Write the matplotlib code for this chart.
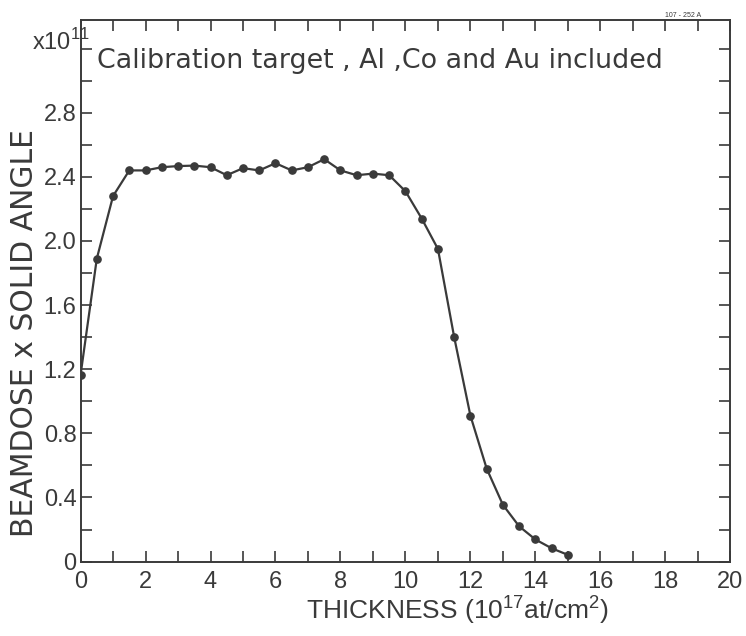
import numpy as np
import matplotlib.pyplot as plt
from matplotlib.ticker import MultipleLocator, FuncFormatter

# thickness in 1e17 at/cm2, beamdose x solid angle in 1e11
thickness = [0.0, 0.5, 1.0, 1.5, 2.0, 2.5, 3.0, 3.5, 4.0, 4.5, 5.0, 5.5, 6.0, 6.5, 7.0, 7.5,
             8.0, 8.5, 9.0, 9.5, 10.0, 10.5, 11.0, 11.5, 12.0, 12.5, 13.0, 13.5, 14.0, 14.5, 15.0]
dose = [1.165, 1.89, 2.28, 2.44, 2.44, 2.46, 2.467, 2.47, 2.46, 2.41, 2.454, 2.44, 2.485,
        2.44, 2.46, 2.51, 2.44, 2.41, 2.42, 2.41, 2.31, 2.14, 1.95, 1.40, 0.91, 0.58,
        0.354, 0.22, 0.138, 0.083, 0.042]

title = 'Calibration target , Al ,Co and Au included'
xlabel = 'THICKNESS (10$^{17}$at/cm$^{2}$)'
ylabel = 'BEAMDOSE x SOLID ANGLE'

plt.rcParams['font.family'] = ['Liberation Sans', 'DejaVu Sans']
plt.rcParams['mathtext.fontset'] = 'custom'
plt.rcParams['mathtext.rm'] = 'Liberation Sans'

ink = '#3a3a3a'
fig = plt.figure(figsize=(7.46, 6.36), dpi=100)
ax = fig.add_axes([0.108, 0.117, 0.871, 0.852])

ax.plot(thickness, dose, '-', color=ink, lw=1.6, marker='o', ms=5.2,
        mfc=ink, mec=ink, zorder=3)


def ylab(v, p):
    if abs(v) < 1e-9:
        return '0'
    if v > 2.85:
        return ''
    return f'{v:.1f}'


ax.set_xlim(0, 20)
ax.set_ylim(0, 3.38)
ax.xaxis.set_major_locator(MultipleLocator(2))
ax.xaxis.set_minor_locator(MultipleLocator(1))
ax.yaxis.set_major_locator(MultipleLocator(0.4))
ax.yaxis.set_minor_locator(MultipleLocator(0.2))
ax.yaxis.set_major_formatter(FuncFormatter(ylab))
ax.xaxis.set_major_formatter(FuncFormatter(lambda v, p: f'{v:.0f}'))

ax.tick_params(which='both', direction='in', length=8, width=1.2, color=ink,
               top=True, right=True, labelsize=17, labelcolor=ink)
ax.tick_params(axis='x', pad=7)
ax.tick_params(axis='y', pad=3)
for s in ax.spines.values():
    s.set_color(ink)
    s.set_linewidth(1.4)

ax.text(0.5, 3.12, title, fontsize=19.4, color=ink, va='center', ha='left',
        family='DejaVu Sans')
ax.text(11.6, -0.3, xlabel, fontsize=19, color=ink, ha='center', va='center')
ax.text(-1.72, 1.425, ylabel, fontsize=21.5, color=ink, rotation=90,
        ha='center', va='center', family='DejaVu Sans')
fig.text(0.043, 0.934, 'x10$^{11}$', fontsize=17, color=ink, ha='left', va='center')
fig.text(0.915, 0.975, '107 - 252 A', fontsize=5, color=ink, ha='center', va='center')

fig.savefig('out.png', dpi=100)
